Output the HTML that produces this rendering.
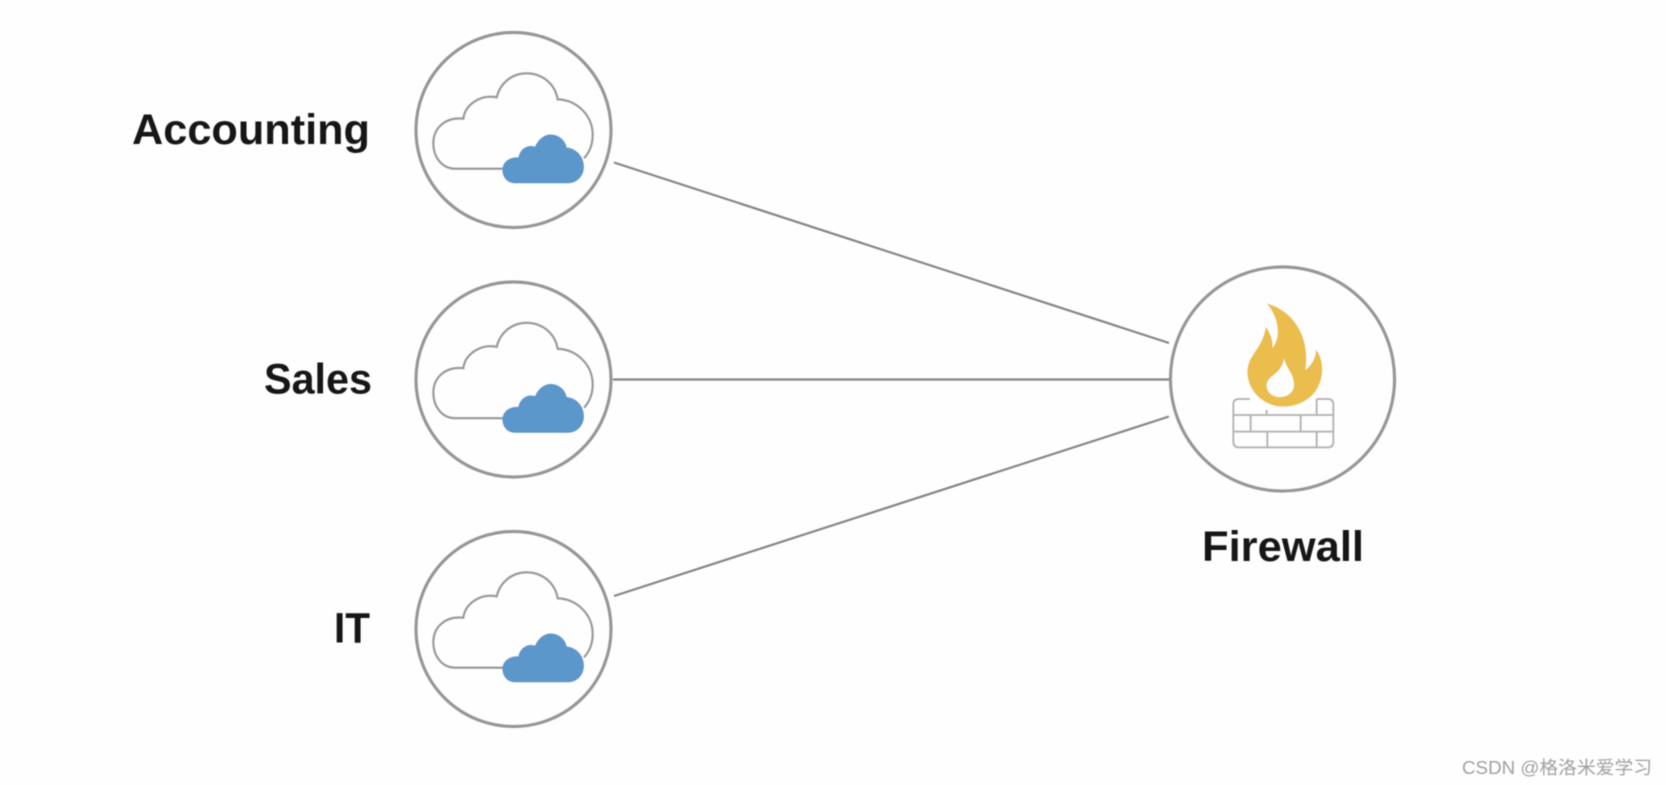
<!DOCTYPE html>
<html>
<head>
<meta charset="utf-8">
<style>
html,body{margin:0;padding:0;background:#fefefe;}
svg{display:block;}
text{font-family:"Liberation Sans","Noto Sans CJK SC",sans-serif;}
</style>
</head>
<body>
<svg width="1666" height="785" viewBox="0 0 1666 785" xmlns="http://www.w3.org/2000/svg">
<defs>
<filter id="b" x="-5%" y="-5%" width="110%" height="110%"><feGaussianBlur stdDeviation="0.5"/></filter>
<g id="node">
<circle cx="113.5" cy="110" r="97.5" fill="#fefefe" stroke="#969696" stroke-width="3.2"/>
<g transform="scale(0.33333)">
<path d="M310,446 L165,446 C125,446 100,410 100,370 C100,325 135,290 190,296 C195,255 240,222 290,232 C300,190 335,160 380,160 C425,160 465,190 473,238 C530,240 578,285 578,345 C578,370 570,395 552,415" fill="none" stroke="#9a9a9a" stroke-width="7"/>
<path d="M345,490 C320,490 307,470 307,450 C307,425 330,410 355,412 C360,385 385,372 405,380 C415,355 435,343 452,343 C480,343 498,365 500,382 C530,385 552,410 552,440 C552,470 530,490 505,490 Z" fill="#5b97cb"/>
</g>
</g>
</defs>
<rect width="1666" height="785" fill="#fefefe"/>
<g filter="url(#b)">
<g stroke="#858585" stroke-width="2.2" fill="none">
<line x1="614" y1="162.5" x2="1169" y2="343"/>
<line x1="613" y1="379.5" x2="1170" y2="379.5"/>
<line x1="614" y1="596" x2="1169" y2="416.5"/>
</g>
<use href="#node" transform="translate(400,20)"/>
<use href="#node" transform="translate(400,269.5)"/>
<use href="#node" transform="translate(400,519)"/>
<circle cx="1282.5" cy="379" r="112" fill="#fefefe" stroke="#969696" stroke-width="3.2"/>
<g transform="translate(1160,260) scale(0.33333)">
<g fill="none" stroke="#b4b4b4" stroke-width="6">
<path d="M270,417 L236,417 Q220,417 220,433 L220,546 Q220,562 236,562 L504,562 Q520,562 520,546 L520,433 Q520,417 504,417 L470,417"/>
<path d="M220,465 L520,465 M220,515 L520,515 M320,450 L320,465 M470,417 L470,465 M272,465 L272,515 M422,465 L422,515 M322,515 L322,562 M470,515 L470,562"/>
</g>
<path d="M320,130 C395,150 452,225 436,330 C455,315 468,295 468,268 C492,300 492,350 472,385 C452,420 412,440 370,440 C310,440 262,392 262,335 C262,285 310,265 317,200 C335,225 340,250 337,265 C365,230 355,170 320,130 Z" fill="#ebbd4e"/>
<path d="M372,295 C378,325 402,340 402,375 C402,397 382,411 360,411 C338,411 320,397 320,377 C320,345 365,345 372,295 Z" fill="#fefefe"/>
</g>
<g font-size="43" font-weight="bold" fill="#181818">
<text x="132" y="144" textLength="238" lengthAdjust="spacingAndGlyphs">Accounting</text>
<text x="264" y="393.5" textLength="108" lengthAdjust="spacingAndGlyphs">Sales</text>
<text x="334" y="642.5" textLength="36" lengthAdjust="spacingAndGlyphs">IT</text>
<text x="1202" y="561" textLength="162" lengthAdjust="spacingAndGlyphs">Firewall</text>
</g>
<text x="1462" y="774" font-size="18" fill="#a0a0a0" textLength="190" lengthAdjust="spacingAndGlyphs">CSDN @格洛米爱学习</text>
</g>
</svg>
</body>
</html>
